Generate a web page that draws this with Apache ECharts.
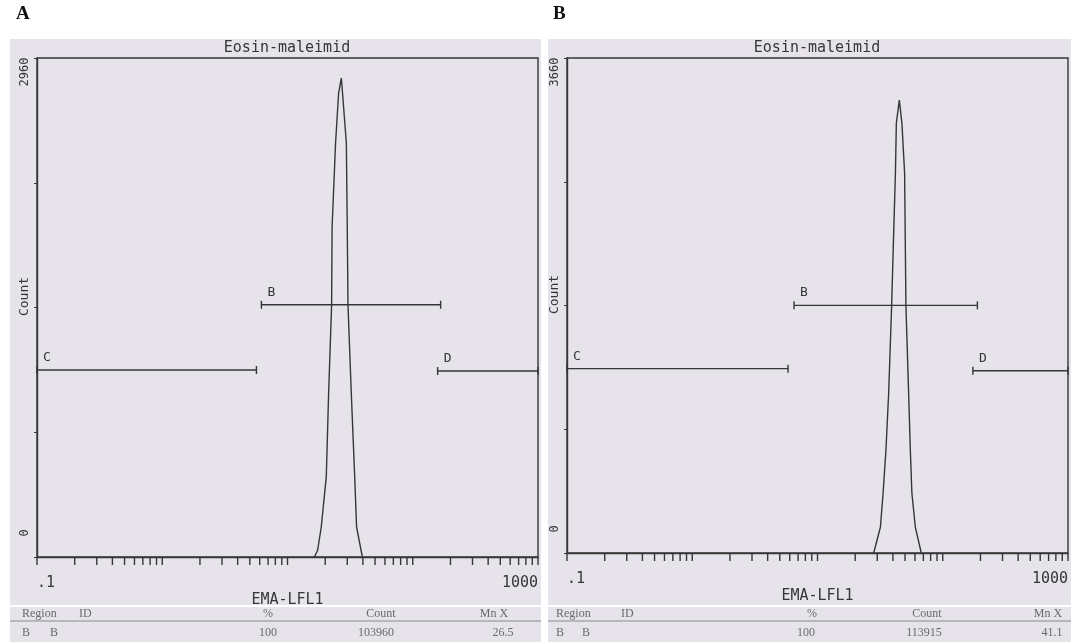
<!DOCTYPE html>
<html><head><meta charset="utf-8">
<script src="https://cdn.jsdelivr.net/npm/echarts@6/dist/echarts.min.js"></script>
<style>html,body{margin:0;padding:0;background:#fff}#c{width:1071px;height:642px}</style>
</head><body><div id="c"></div>
<script>
// ---------- data ----------
const panelLetters = ['A', 'B'];
const panelTitle = 'Eosin-maleimid';
const xAxisName = 'EMA-LFL1';
const yAxisName = 'Count';
const xMin = 0.1, xMax = 1000;
const xEdgeLabels = ['.1', '1000'];
const yMaxA = 2960, yMaxB = 3660;
const xTickValues = [0.1,0.2,0.3,0.4,0.5,0.6,0.7,0.8,0.9,
  1,2,3,4,5,6,7,8,9,
  10,20,30,40,50,60,70,80,90,
  100,200,300,400,500,600,700,800,900,1000];

// histogram outline, panel A (EMA-LFL1 value, count)
const histAx = [16.4, 17.4, 18.6, 20.4, 21.3, 22.5, 22.7, 24.2, 25.6, 26.9, 27.5, 29.5, 30.0, 30.4, 32.3, 34.4, 35.6, 39.6];
const histAy = [0, 40, 178, 475, 973, 1495, 1957, 2456, 2752, 2841, 2752, 2456, 1957, 1495, 973, 475, 178, 0];
// histogram outline, panel B
const histBx = [28.1, 31.8, 33.4, 35.2, 37.0, 39.1, 40.2, 41.9, 42.6, 45.0, 47.2, 49.6, 50.3, 50.8, 53.4, 55.1, 56.7, 60.4, 67.4];
const histBy = [0, 192, 444, 762, 1183, 1834, 2240, 2810, 3179, 3349, 3179, 2810, 2240, 1834, 1183, 762, 444, 192, 0];

// region markers
const regionNames = ['C', 'B', 'D'];
const regionAStart = [0.1, 6.19, 158];
const regionAEnd = [5.65, 167, 1000];
const regionALevel = [1109, 1496, 1103];
const regionBStart = [0.1, 6.50, 174];
const regionBEnd = [5.82, 189, 1000];
const regionBLevel = [1363, 1831, 1347];

// statistics table
const tableHeader = ['Region', 'ID', '%', 'Count', 'Mn X'];
const tableRowA = ['B', 'B', '100', '103960', '26.5'];
const tableRowB = ['B', 'B', '100', '113915', '41.1'];

// ---------- styling ----------
const INK = '#363636';
const BG = '#e6e3ea';
const MONO = '"DejaVu Sans Mono", monospace';
const SERIF = '"Liberation Serif", serif';

const chart = echarts.init(document.getElementById('c'), null, {renderer: 'canvas'});

function pairs(xs, ys) { return xs.map((x, i) => [x, ys[i]]); }
function regions(s, e, l) { return s.map((v, i) => [v, e[i], l[i]]); }

function tickRender(params, api) {
  const p = api.coord([api.value(0), 0]);
  return {type: 'line', shape: {x1: p[0], y1: p[1], x2: p[0], y2: p[1] + 8},
    style: {stroke: INK, lineWidth: 1.4}};
}
function regionRender(params, api) {
  const y = api.value(2);
  const p1 = api.coord([api.value(0), y]);
  const p2 = api.coord([api.value(1), y]);
  const st = {stroke: INK, lineWidth: 1.4};
  return {type: 'group', children: [
    {type: 'line', shape: {x1: p1[0], y1: p1[1], x2: p2[0], y2: p2[1]}, style: st},
    {type: 'line', shape: {x1: p1[0], y1: p1[1] - 4, x2: p1[0], y2: p1[1] + 4}, style: st},
    {type: 'line', shape: {x1: p2[0], y1: p2[1] - 4, x2: p2[0], y2: p2[1] + 4}, style: st},
    {type: 'text', x: p1[0] + 6, y: p1[1] - 6,
      style: {text: regionNames[params.dataIndex], font: '13px ' + MONO, fill: INK, verticalAlign: 'bottom'}}
  ]};
}

function xAxisFor(gi) {
  return {
    type: 'log', logBase: 10, min: xMin, max: xMax, gridIndex: gi,
    axisLine: {lineStyle: {color: INK, width: 1.4}},
    axisTick: {show: false}, splitLine: {show: false},
    axisLabel: {
      formatter: v => v < 0.5 ? xEdgeLabels[0] : (v > 500 ? xEdgeLabels[1] : ''),
      showMinLabel: true, showMaxLabel: true, alignMinLabel: 'left', alignMaxLabel: 'right',
      margin: 19, color: INK, fontFamily: MONO, fontSize: 15
    },
    name: xAxisName, nameLocation: 'middle', nameGap: 36, nameMoveOverlap: false,
    nameTextStyle: {color: INK, fontFamily: MONO, fontSize: 15}
  };
}
function yAxisFor(gi, yMax) {
  return {
    type: 'value', min: 0, max: yMax, interval: yMax / 4, gridIndex: gi,
    axisLine: {show: true, lineStyle: {color: INK, width: 1.4}},
    axisTick: {show: true, length: 3, lineStyle: {color: INK}},
    splitLine: {show: false},
    axisLabel: {
      rotate: 90, margin: 6, color: INK,
      formatter: v => v === 0 ? '{lo|0}' : (v === yMax ? '{hi|' + yMax + '}' : ''),
      rich: {
        lo: {fontFamily: MONO, fontSize: 12, color: INK, padding: [0, 0, 0, 48]},
        hi: {fontFamily: MONO, fontSize: 12, color: INK, padding: [0, 28, 0, 0]}
      }
    },
    name: yAxisName, nameLocation: 'middle', nameGap: 6, nameMoveOverlap: false,
    nameTextStyle: {color: INK, fontFamily: MONO, fontSize: 13, padding: [0, 0, 0, 22]}
  };
}

function tableGraphics(row, pos) {
  const els = [];
  const f = '12px ' + SERIF, c = '#6a6a6a';
  tableHeader.forEach((t, i) => els.push({type: 'text', x: pos.h[i], y: 614, z: 5,
    style: {text: t, font: f, fill: c, align: pos.ha[i], verticalAlign: 'middle'}}));
  row.forEach((t, i) => els.push({type: 'text', x: pos.r[i], y: 633, z: 5,
    style: {text: t, font: f, fill: c, align: pos.ra[i], verticalAlign: 'middle'}}));
  return els;
}

const posA = {h: [22, 79, 268, 381, 494], ha: ['left','left','center','center','center'],
              r: [22, 50, 268, 376, 503], ra: ['left','left','center','center','center']};
const posB = {h: [556, 621, 812, 927, 1048], ha: ['left','left','center','center','center'],
              r: [556, 582, 806, 924, 1052], ra: ['left','left','center','center','center']};

const graphics = [
  {type: 'rect', shape: {x: 10, y: 39, width: 531, height: 566}, style: {fill: BG}, z: -10},
  {type: 'rect', shape: {x: 548, y: 39, width: 523, height: 566}, style: {fill: BG}, z: -10},
  {type: 'rect', shape: {x: 10, y: 607, width: 531, height: 35}, style: {fill: BG}, z: -10},
  {type: 'rect', shape: {x: 548, y: 607, width: 523, height: 35}, style: {fill: BG}, z: -10},
  {type: 'line', shape: {x1: 10, y1: 621, x2: 541, y2: 621}, style: {stroke: '#8a8a8a', lineWidth: 1}, z: 5},
  {type: 'line', shape: {x1: 548, y1: 621, x2: 1071, y2: 621}, style: {stroke: '#8a8a8a', lineWidth: 1}, z: 5},
  {type: 'text', x: 16, y: 24, style: {text: panelLetters[0], font: 'bold 19px ' + SERIF, fill: '#111', verticalAlign: 'bottom'}},
  {type: 'text', x: 553, y: 24, style: {text: panelLetters[1], font: 'bold 19px ' + SERIF, fill: '#111', verticalAlign: 'bottom'}},
  {type: 'text', x: 287, y: 48, style: {text: panelTitle, font: '15px ' + MONO, fill: INK, align: 'center', verticalAlign: 'middle'}},
  {type: 'text', x: 817, y: 48, style: {text: panelTitle, font: '15px ' + MONO, fill: INK, align: 'center', verticalAlign: 'middle'}},
  ...tableGraphics(tableRowA, posA),
  ...tableGraphics(tableRowB, posB)
];

const option = {
  animation: false,
  backgroundColor: '#ffffff',
  graphic: graphics,
  grid: [
    {left: 37, top: 58, width: 501, height: 499, show: true, borderColor: INK, borderWidth: 1.4, backgroundColor: 'transparent'},
    {left: 567, top: 58, width: 503, height: 495, show: true, borderColor: INK, borderWidth: 1.4, backgroundColor: 'transparent'}
  ],
  xAxis: [xAxisFor(0), xAxisFor(1)],
  yAxis: [yAxisFor(0, yMaxA), yAxisFor(1, yMaxB)],
  series: [
    {type: 'line', xAxisIndex: 0, yAxisIndex: 0, data: pairs(histAx, histAy), showSymbol: false,
      lineStyle: {color: INK, width: 1.4}, z: 3},
    {type: 'line', xAxisIndex: 1, yAxisIndex: 1, data: pairs(histBx, histBy), showSymbol: false,
      lineStyle: {color: INK, width: 1.4}, z: 3},
    {type: 'custom', xAxisIndex: 0, yAxisIndex: 0, data: xTickValues.map(v => [v, 0]), renderItem: tickRender, clip: false, encode: {x: 0, y: 1}, silent: true},
    {type: 'custom', xAxisIndex: 1, yAxisIndex: 1, data: xTickValues.map(v => [v, 0]), renderItem: tickRender, clip: false, encode: {x: 0, y: 1}, silent: true},
    {type: 'custom', xAxisIndex: 0, yAxisIndex: 0, data: regions(regionAStart, regionAEnd, regionALevel), renderItem: regionRender, clip: false, encode: {x: [0, 1], y: 2}, silent: true},
    {type: 'custom', xAxisIndex: 1, yAxisIndex: 1, data: regions(regionBStart, regionBEnd, regionBLevel), renderItem: regionRender, clip: false, encode: {x: [0, 1], y: 2}, silent: true}
  ]
};
chart.setOption(option);
</script></body></html>
